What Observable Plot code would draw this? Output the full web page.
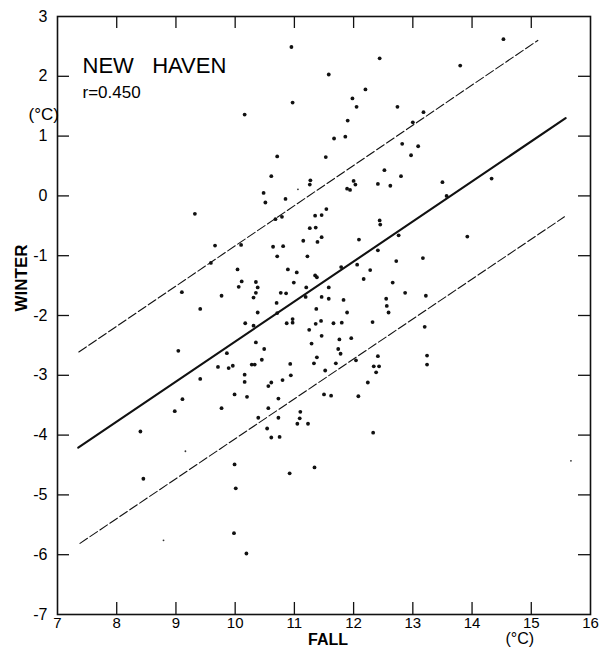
<!DOCTYPE html>
<html><head><meta charset="utf-8">
<script src="https://cdn.jsdelivr.net/npm/d3@7"></script>
<script src="https://cdn.jsdelivr.net/npm/@observablehq/plot@0.6"></script>
<style>
body{margin:0;background:#fff;}
svg text{white-space:pre;}
</style></head><body><div id="chart"></div>
<script>
// Fall mean temperature (°C) for each year
const fall = [
10.95,11.58,10.97,10.16,11.67,10.71,11.53,10.61,11.27,11.26,10.48,10.51,10.85,11.54,
14.53,12.44,13.80,12.20,11.98,12.05,12.74,13.18,11.90,13.00,11.86,12.82,13.09,12.97,
12.52,12.80,12.00,12.03,11.89,11.94,12.41,12.62,13.50,14.33,13.57,
9.32,9.66,10.10,10.64,10.71,9.59,10.04,10.11,10.35,10.06,10.38,9.10,10.35,10.77,9.77,
10.31,10.70,9.41,10.38,10.71,10.17,10.31,9.04,10.35,10.49,9.86,10.45,10.28,10.33,9.71,
9.89,9.96,10.16,9.41,10.16,10.61,10.56,9.99,10.20,9.11,10.73,
10.68,10.79,11.35,11.46,11.26,11.36,11.46,11.15,11.39,12.44,12.45,12.09,12.76,13.92,
10.81,12.41,11.22,13.17,12.72,12.06,11.79,10.89,11.04,12.28,11.35,11.38,12.17,10.99,
12.66,11.20,11.58,10.86,11.19,11.46,11.58,11.83,12.87,13.22,12.55,12.56,11.37,12.59,
11.89,10.87,10.97,10.97,11.36,11.45,11.66,11.80,12.32,13.20,11.25,11.46,11.96,11.76,
11.29,11.74,11.78,12.41,13.24,11.38,12.04,10.93,11.33,11.70,12.34,12.43,13.24,11.52,
12.38,10.94,10.80,12.24,11.50,11.62,12.08,
8.98,9.77,10.56,10.39,10.73,10.54,10.61,10.75,11.10,11.09,11.05,11.23,8.40,9.99,11.34,
10.92,8.45,10.01,9.98,10.19,12.33
];
// Winter mean temperature (°C) for the same years
const winter = [
2.49,2.03,1.56,1.36,0.96,0.66,0.65,0.33,0.26,0.19,0.05,-0.11,-0.05,-0.22,
2.62,2.30,2.18,1.78,1.63,1.49,1.49,1.40,1.26,1.23,0.99,0.87,0.83,0.68,
0.43,0.33,0.25,0.19,0.12,0.10,0.20,0.17,0.23,0.29,0.00,
-0.30,-0.83,-0.82,-0.85,-1.01,-1.12,-1.23,-1.43,-1.44,-1.52,-1.53,-1.61,-1.62,-1.62,-1.67,
-1.70,-1.79,-1.89,-1.95,-1.96,-2.13,-2.17,-2.59,-2.45,-2.56,-2.63,-2.74,-2.82,-2.82,-2.86,
-2.88,-2.84,-2.99,-3.06,-3.11,-3.12,-3.18,-3.32,-3.36,-3.40,-3.39,
-0.39,-0.35,-0.33,-0.32,-0.54,-0.53,-0.69,-0.75,-0.77,-0.41,-0.48,-0.73,-0.66,-0.68,
-0.84,-0.91,-1.01,-1.04,-1.09,-1.15,-1.19,-1.23,-1.28,-1.24,-1.33,-1.36,-1.39,-1.45,
-1.45,-1.53,-1.53,-1.63,-1.69,-1.69,-1.72,-1.74,-1.62,-1.67,-1.72,-1.84,-1.89,-1.95,
-1.95,-2.13,-2.12,-2.06,-2.14,-2.09,-2.13,-2.12,-2.11,-2.19,-2.24,-2.34,-2.38,-2.40,
-2.47,-2.56,-2.64,-2.68,-2.67,-2.70,-2.75,-2.81,-2.80,-2.80,-2.85,-2.85,-2.82,-2.92,
-2.95,-3.00,-3.08,-3.12,-3.32,-3.34,-3.35,
-3.60,-3.55,-3.55,-3.71,-3.71,-3.89,-4.04,-4.03,-3.61,-3.72,-3.81,-3.81,-3.94,-4.49,-4.54,
-4.64,-4.73,-4.89,-5.64,-5.98,-3.96
];
// faint specks in the original print
const speckFall = [11.06, 9.16, 8.79, 15.67];
const speckWinter = [0.11, -4.27, -5.76, -4.43];

// regression line and its ± band (end points)
const fitFall = [7.35, 15.58];
const fitWinter = [-4.21, 1.30];
const upperFall = [7.36, 15.11];
const upperWinter = [-2.61, 2.60];
const lowerFall = [7.38, 15.56];
const lowerWinter = [-5.81, -0.35];

const xTicks = [7, 8, 9, 10, 11, 12, 13, 14, 15, 16];
const yTicks = [3, 2, 1, 0, -1, -2, -3, -4, -5, -6, -7];
const xInner = [8, 9, 10, 11, 12, 13, 14, 15];
const yInner = [2, 1, 0, -1, -2, -3, -4, -5, -6];

const titleText = "NEW   HAVEN";
const rText = "r=0.450";
const unitText = "(°C)";
const xLabel = "FALL";
const yLabel = "WINTER";

const W = 605, H = 647, mL = 57, mR = 15, mT = 16, mB = 33;
const pxPerX = (W - mL - mR) / 9, pxPerY = (H - mT - mB) / 10, tk = 12;
const pairs = (a, b) => a.map((d, i) => [d, b[i]]);

const chart = Plot.plot({
  width: W, height: H,
  marginLeft: mL, marginRight: mR, marginTop: mT, marginBottom: mB,
  x: {domain: [7, 16]},
  y: {domain: [-7, 3]},
  style: {fontFamily: "'Liberation Sans', Arial, sans-serif", color: "#000", background: "#fff"},
  marks: [
    Plot.frame({stroke: "#111", strokeWidth: 1.6}),
    Plot.axisX(xTicks, {tickSize: 0, tickPadding: 3, fontSize: 15, tickFormat: d => String(d), label: null}),
    Plot.axisY(yTicks, {tickSize: 0, tickPadding: 10, fontSize: 16, tickFormat: d => String(d), label: null}),
    Plot.ruleX(xInner, {y1: -7, y2: -7 + tk / pxPerY, stroke: "#111", strokeWidth: 1.3}),
    Plot.ruleX(xInner, {y1: 3, y2: 3 - tk / pxPerY, stroke: "#111", strokeWidth: 1.3}),
    Plot.ruleY(yInner, {x1: 7, x2: 7 + tk / pxPerX, stroke: "#111", strokeWidth: 1.3}),
    Plot.ruleY(yInner, {x1: 16, x2: 16 - tk / pxPerX, stroke: "#111", strokeWidth: 1.3}),
    Plot.line(pairs(fitFall, fitWinter), {stroke: "#111", strokeWidth: 2.1}),
    Plot.line(pairs(upperFall, upperWinter), {stroke: "#111", strokeWidth: 1.1, strokeDasharray: "9,3"}),
    Plot.line(pairs(lowerFall, lowerWinter), {stroke: "#111", strokeWidth: 1.1, strokeDasharray: "9,3"}),
    Plot.dot(fall, {x: fall, y: winter, r: 1.9, fill: "#111", stroke: null}),
    Plot.dot(speckFall, {x: speckFall, y: speckWinter, r: 0.9, fill: "#333", stroke: null}),
    Plot.text([titleText], {text: d => d, frameAnchor: "top-left", dx: 25, dy: 41, textAnchor: "start", fontSize: 22}),
    Plot.text([rText], {text: d => d, frameAnchor: "top-left", dx: 25, dy: 69, textAnchor: "start", fontSize: 17}),
    Plot.text([unitText], {text: d => d, frameAnchor: "top-left", dx: -29, dy: 91, fontSize: 17}),
    Plot.text([yLabel], {text: d => d, frameAnchor: "left", dx: -36, dy: -4, rotate: -90, fontSize: 17, fontWeight: "bold"}),
    Plot.text([xLabel], {text: d => d, frameAnchor: "bottom", dx: 4, dy: 25, lineAnchor: "top", fontSize: 16, fontWeight: "bold", dy: 19}),
    Plot.text([unitText], {text: d => d, frameAnchor: "bottom-left", dx: 448, lineAnchor: "top", dy: 18, fontSize: 16})
  ]
});
document.getElementById("chart").appendChild(chart);
</script></body></html>
